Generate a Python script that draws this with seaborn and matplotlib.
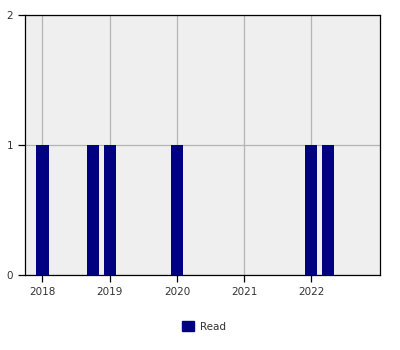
import matplotlib
matplotlib.use("Agg")
import matplotlib.pyplot as plt
import seaborn as sns
import pandas as pd
from matplotlib.patches import Patch

# Data
dates = ["2018-01", "2018-10", "2019-01", "2020-01", "2022-01", "2022-04"]
counts = [1, 1, 1, 1, 1, 1]
year_ticks = [2018, 2019, 2020, 2021, 2022]
y_ticks = [0, 1, 2]
series_name = "Read"

def to_year(s):
    y, m = s.split("-")
    return int(y) + (int(m) - 1) / 12.0

df = pd.DataFrame({"when": [to_year(d) for d in dates], "count": counts})

sns.set_style("ticks")
plt.rcParams["font.family"] = ["DejaVu Sans"]

fig = plt.figure(figsize=(4, 3.5), dpi=100)
ax = fig.add_axes([0.0625, 0.214, 0.8875, 0.743])
ax.set_facecolor("#efefef")

sns.barplot(data=df, x="when", y="count", native_scale=True, width=0.72,
            color="#000080", saturation=1, ax=ax, zorder=3, errorbar=None,
            linewidth=0)

ax.set_xlim(2017.74, 2023.02)
ax.set_ylim(0, 2)
ax.set_xticks(year_ticks)
ax.set_xticklabels([str(y) for y in year_ticks])
ax.set_yticks(y_ticks)
ax.set_yticklabels([str(v) for v in y_ticks])
ax.grid(True, color="#b4b4b4", linewidth=0.9, zorder=0)
ax.set_axisbelow(True)
ax.set_xlabel("")
ax.set_ylabel("")
for sp in ax.spines.values():
    sp.set_visible(True)
    sp.set_color("black")
    sp.set_linewidth(0.9)
ax.tick_params(axis="both", labelsize=7.5, colors="#333333", length=5, width=0.9)
ax.tick_params(axis="both", color="black")

handles = [Patch(facecolor="#000080", edgecolor="#000080", label=series_name)]
fig.legend(handles=handles, loc="center", bbox_to_anchor=(0.51, 0.068), frameon=False,
           fontsize=7.5, handlelength=1.15, handleheight=1.15, handletextpad=0.6,
           labelcolor="#333333")

fig.savefig("out.png", dpi=100)
